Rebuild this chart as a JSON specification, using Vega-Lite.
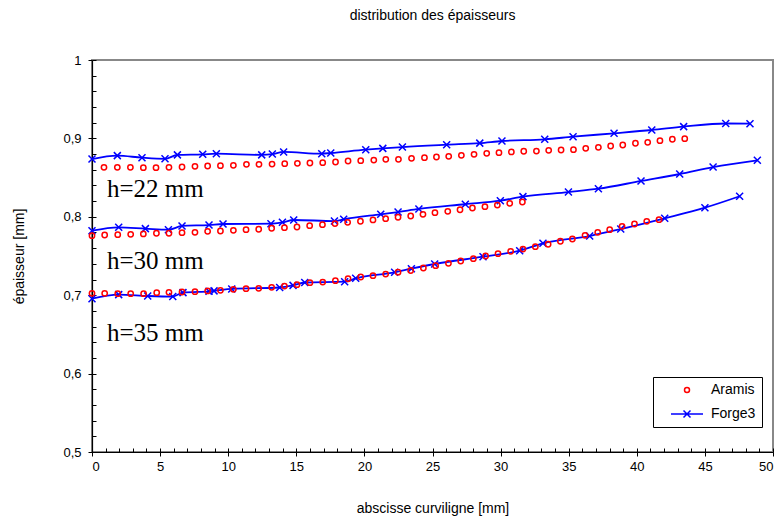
{
  "$schema": "https://vega.github.io/schema/vega-lite/v6.json",
  "width": 681,
  "height": 392,
  "autosize": {"type": "none"},
  "padding": {"left": 92, "top": 60, "right": 10, "bottom": 66},
  "background": "white",
  "title": {"text": "distribution des épaisseurs", "fontSize": 14, "fontWeight": "normal", "font": "Liberation Sans", "color": "#000", "offset": 31, "anchor": "middle"},
  "config": {
    "view": {"stroke": "#888", "strokeWidth": 2},
    "font": "Liberation Sans",
    "axis": {"domainColor": "#000", "domainWidth": 1.2, "tickColor": "#000", "labelColor": "#000", "titleColor": "#000", "labelFont": "Liberation Sans", "titleFont": "Liberation Sans", "labelFontSize": 13, "titleFontSize": 14, "titleFontWeight": "normal", "grid": false},
    "legend": {"title": null, "orient": "none", "legendX": 561, "legendY": 317, "fillColor": "white", "strokeColor": "black", "padding": 6, "labelFontSize": 14, "labelFont": "Liberation Sans", "labelColor": "#000", "symbolSize": 25, "symbolOffset": 21, "labelOffset": 17, "rowPadding": 10, "symbolStrokeWidth": 1.5, "symbolOpacity": 1}
  },
  "datasets": {
    "pts": [
      {"s": "Aramis", "h": "22", "x": 0.88, "y": 0.8631}, {"s": "Aramis", "h": "22", "x": 1.86, "y": 0.8631}, {"s": "Aramis", "h": "22", "x": 2.82, "y": 0.8631}, {"s": "Aramis", "h": "22", "x": 3.77, "y": 0.8626}, {"s": "Aramis", "h": "22", "x": 4.70, "y": 0.8626}, {"s": "Aramis", "h": "22", "x": 5.65, "y": 0.8631}, {"s": "Aramis", "h": "22", "x": 6.61, "y": 0.8635}, {"s": "Aramis", "h": "22", "x": 7.56, "y": 0.8644}, {"s": "Aramis", "h": "22", "x": 8.49, "y": 0.8648}, {"s": "Aramis", "h": "22", "x": 9.43, "y": 0.8652}, {"s": "Aramis", "h": "22", "x": 10.38, "y": 0.8657}, {"s": "Aramis", "h": "22", "x": 11.34, "y": 0.867}, {"s": "Aramis", "h": "22", "x": 12.26, "y": 0.867}, {"s": "Aramis", "h": "22", "x": 13.22, "y": 0.8673}, {"s": "Aramis", "h": "22", "x": 14.15, "y": 0.8677}, {"s": "Aramis", "h": "22", "x": 15.08, "y": 0.8682}, {"s": "Aramis", "h": "22", "x": 16.0, "y": 0.8686}, {"s": "Aramis", "h": "22", "x": 16.94, "y": 0.869}, {"s": "Aramis", "h": "22", "x": 17.88, "y": 0.8699}, {"s": "Aramis", "h": "22", "x": 18.8, "y": 0.8712}, {"s": "Aramis", "h": "22", "x": 19.73, "y": 0.8716}, {"s": "Aramis", "h": "22", "x": 20.69, "y": 0.8724}, {"s": "Aramis", "h": "22", "x": 21.57, "y": 0.8733}, {"s": "Aramis", "h": "22", "x": 22.5, "y": 0.8733}, {"s": "Aramis", "h": "22", "x": 23.46, "y": 0.8746}, {"s": "Aramis", "h": "22", "x": 24.41, "y": 0.8754}, {"s": "Aramis", "h": "22", "x": 25.29, "y": 0.8763}, {"s": "Aramis", "h": "22", "x": 26.19, "y": 0.8772}, {"s": "Aramis", "h": "22", "x": 27.12, "y": 0.8784}, {"s": "Aramis", "h": "22", "x": 28.05, "y": 0.8797}, {"s": "Aramis", "h": "22", "x": 28.98, "y": 0.881}, {"s": "Aramis", "h": "22", "x": 29.88, "y": 0.8818}, {"s": "Aramis", "h": "22", "x": 30.79, "y": 0.8827}, {"s": "Aramis", "h": "22", "x": 31.7, "y": 0.8836}, {"s": "Aramis", "h": "22", "x": 32.63, "y": 0.8839}, {"s": "Aramis", "h": "22", "x": 33.53, "y": 0.8848}, {"s": "Aramis", "h": "22", "x": 34.44, "y": 0.8852}, {"s": "Aramis", "h": "22", "x": 35.35, "y": 0.8856}, {"s": "Aramis", "h": "22", "x": 36.25, "y": 0.8873}, {"s": "Aramis", "h": "22", "x": 37.18, "y": 0.8886}, {"s": "Aramis", "h": "22", "x": 38.08, "y": 0.8903}, {"s": "Aramis", "h": "22", "x": 38.97, "y": 0.8916}, {"s": "Aramis", "h": "22", "x": 39.9, "y": 0.8938}, {"s": "Aramis", "h": "22", "x": 40.8, "y": 0.895}, {"s": "Aramis", "h": "22", "x": 41.7, "y": 0.8971}, {"s": "Aramis", "h": "22", "x": 42.61, "y": 0.8989}, {"s": "Aramis", "h": "22", "x": 43.52, "y": 0.8997},
      {"s": "Aramis", "h": "30", "x": 0, "y": 0.7759}, {"s": "Aramis", "h": "30", "x": 0.93, "y": 0.7768}, {"s": "Aramis", "h": "30", "x": 1.89, "y": 0.7772}, {"s": "Aramis", "h": "30", "x": 2.84, "y": 0.7777}, {"s": "Aramis", "h": "30", "x": 3.77, "y": 0.7781}, {"s": "Aramis", "h": "30", "x": 4.73, "y": 0.779}, {"s": "Aramis", "h": "30", "x": 5.65, "y": 0.779}, {"s": "Aramis", "h": "30", "x": 6.61, "y": 0.7797}, {"s": "Aramis", "h": "30", "x": 7.56, "y": 0.7802}, {"s": "Aramis", "h": "30", "x": 8.49, "y": 0.7815}, {"s": "Aramis", "h": "30", "x": 9.43, "y": 0.7819}, {"s": "Aramis", "h": "30", "x": 10.38, "y": 0.7828}, {"s": "Aramis", "h": "30", "x": 11.31, "y": 0.7836}, {"s": "Aramis", "h": "30", "x": 12.24, "y": 0.7841}, {"s": "Aramis", "h": "30", "x": 13.19, "y": 0.7854}, {"s": "Aramis", "h": "30", "x": 14.13, "y": 0.7861}, {"s": "Aramis", "h": "30", "x": 15.05, "y": 0.787}, {"s": "Aramis", "h": "30", "x": 15.98, "y": 0.7887}, {"s": "Aramis", "h": "30", "x": 16.92, "y": 0.79}, {"s": "Aramis", "h": "30", "x": 17.84, "y": 0.7913}, {"s": "Aramis", "h": "30", "x": 18.77, "y": 0.793}, {"s": "Aramis", "h": "30", "x": 19.71, "y": 0.7943}, {"s": "Aramis", "h": "30", "x": 20.63, "y": 0.796}, {"s": "Aramis", "h": "30", "x": 21.56, "y": 0.7976}, {"s": "Aramis", "h": "30", "x": 22.47, "y": 0.7994}, {"s": "Aramis", "h": "30", "x": 23.4, "y": 0.801}, {"s": "Aramis", "h": "30", "x": 24.3, "y": 0.8032}, {"s": "Aramis", "h": "30", "x": 25.18, "y": 0.8053}, {"s": "Aramis", "h": "30", "x": 26.12, "y": 0.807}, {"s": "Aramis", "h": "30", "x": 27.02, "y": 0.809}, {"s": "Aramis", "h": "30", "x": 27.93, "y": 0.8112}, {"s": "Aramis", "h": "30", "x": 28.85, "y": 0.8129}, {"s": "Aramis", "h": "30", "x": 29.76, "y": 0.815}, {"s": "Aramis", "h": "30", "x": 30.67, "y": 0.8172}, {"s": "Aramis", "h": "30", "x": 31.6, "y": 0.8189},
      {"s": "Aramis", "h": "35", "x": 0, "y": 0.7024}, {"s": "Aramis", "h": "35", "x": 0.93, "y": 0.7024}, {"s": "Aramis", "h": "35", "x": 1.89, "y": 0.702}, {"s": "Aramis", "h": "35", "x": 2.84, "y": 0.702}, {"s": "Aramis", "h": "35", "x": 3.79, "y": 0.702}, {"s": "Aramis", "h": "35", "x": 4.75, "y": 0.7032}, {"s": "Aramis", "h": "35", "x": 5.65, "y": 0.7037}, {"s": "Aramis", "h": "35", "x": 6.61, "y": 0.7041}, {"s": "Aramis", "h": "35", "x": 7.56, "y": 0.7045}, {"s": "Aramis", "h": "35", "x": 8.49, "y": 0.7054}, {"s": "Aramis", "h": "35", "x": 9.43, "y": 0.7062}, {"s": "Aramis", "h": "35", "x": 10.38, "y": 0.7075}, {"s": "Aramis", "h": "35", "x": 11.31, "y": 0.7083}, {"s": "Aramis", "h": "35", "x": 12.24, "y": 0.7088}, {"s": "Aramis", "h": "35", "x": 13.19, "y": 0.71}, {"s": "Aramis", "h": "35", "x": 14.13, "y": 0.7117}, {"s": "Aramis", "h": "35", "x": 15.05, "y": 0.7134}, {"s": "Aramis", "h": "35", "x": 16.0, "y": 0.716}, {"s": "Aramis", "h": "35", "x": 16.94, "y": 0.7168}, {"s": "Aramis", "h": "35", "x": 17.87, "y": 0.7185}, {"s": "Aramis", "h": "35", "x": 18.8, "y": 0.721}, {"s": "Aramis", "h": "35", "x": 19.73, "y": 0.7232}, {"s": "Aramis", "h": "35", "x": 20.63, "y": 0.7249}, {"s": "Aramis", "h": "35", "x": 21.56, "y": 0.727}, {"s": "Aramis", "h": "35", "x": 22.47, "y": 0.7293}, {"s": "Aramis", "h": "35", "x": 23.4, "y": 0.7315}, {"s": "Aramis", "h": "35", "x": 24.33, "y": 0.7347}, {"s": "Aramis", "h": "35", "x": 25.23, "y": 0.7376}, {"s": "Aramis", "h": "35", "x": 26.17, "y": 0.7407}, {"s": "Aramis", "h": "35", "x": 27.07, "y": 0.7436}, {"s": "Aramis", "h": "35", "x": 28.0, "y": 0.7466}, {"s": "Aramis", "h": "35", "x": 28.9, "y": 0.75}, {"s": "Aramis", "h": "35", "x": 29.81, "y": 0.7529}, {"s": "Aramis", "h": "35", "x": 30.74, "y": 0.756}, {"s": "Aramis", "h": "35", "x": 31.64, "y": 0.7589}, {"s": "Aramis", "h": "35", "x": 32.55, "y": 0.7619}, {"s": "Aramis", "h": "35", "x": 33.49, "y": 0.765}, {"s": "Aramis", "h": "35", "x": 34.39, "y": 0.7688}, {"s": "Aramis", "h": "35", "x": 35.27, "y": 0.7717}, {"s": "Aramis", "h": "35", "x": 36.2, "y": 0.7764}, {"s": "Aramis", "h": "35", "x": 37.13, "y": 0.7802}, {"s": "Aramis", "h": "35", "x": 38.01, "y": 0.7836}, {"s": "Aramis", "h": "35", "x": 38.92, "y": 0.7879}, {"s": "Aramis", "h": "35", "x": 39.83, "y": 0.7908}, {"s": "Aramis", "h": "35", "x": 40.73, "y": 0.7942}, {"s": "Aramis", "h": "35", "x": 41.63, "y": 0.7963},
      {"s": "Forge3", "h": "22", "x": 0, "y": 0.8737}, {"s": "Forge3", "h": "22", "x": 1.86, "y": 0.878}, {"s": "Forge3", "h": "22", "x": 3.67, "y": 0.8754}, {"s": "Forge3", "h": "22", "x": 5.36, "y": 0.874}, {"s": "Forge3", "h": "22", "x": 6.27, "y": 0.879}, {"s": "Forge3", "h": "22", "x": 8.13, "y": 0.8797}, {"s": "Forge3", "h": "22", "x": 9.13, "y": 0.8805}, {"s": "Forge3", "h": "22", "x": 12.46, "y": 0.879}, {"s": "Forge3", "h": "22", "x": 13.24, "y": 0.88}, {"s": "Forge3", "h": "22", "x": 14.07, "y": 0.8827}, {"s": "Forge3", "h": "22", "x": 16.87, "y": 0.8805}, {"s": "Forge3", "h": "22", "x": 17.53, "y": 0.8814}, {"s": "Forge3", "h": "22", "x": 20.1, "y": 0.8856}, {"s": "Forge3", "h": "22", "x": 21.35, "y": 0.8873}, {"s": "Forge3", "h": "22", "x": 22.79, "y": 0.889}, {"s": "Forge3", "h": "22", "x": 26.04, "y": 0.892}, {"s": "Forge3", "h": "22", "x": 28.47, "y": 0.894}, {"s": "Forge3", "h": "22", "x": 30.1, "y": 0.8967}, {"s": "Forge3", "h": "22", "x": 33.24, "y": 0.8988}, {"s": "Forge3", "h": "22", "x": 35.32, "y": 0.9022}, {"s": "Forge3", "h": "22", "x": 38.33, "y": 0.9065}, {"s": "Forge3", "h": "22", "x": 41.1, "y": 0.9107}, {"s": "Forge3", "h": "22", "x": 43.44, "y": 0.915}, {"s": "Forge3", "h": "22", "x": 46.53, "y": 0.919}, {"s": "Forge3", "h": "22", "x": 48.31, "y": 0.9188},
      {"s": "Forge3", "h": "30", "x": 0, "y": 0.7823}, {"s": "Forge3", "h": "30", "x": 1.96, "y": 0.7866}, {"s": "Forge3", "h": "30", "x": 3.92, "y": 0.7849}, {"s": "Forge3", "h": "30", "x": 5.61, "y": 0.7836}, {"s": "Forge3", "h": "30", "x": 6.61, "y": 0.7883}, {"s": "Forge3", "h": "30", "x": 8.59, "y": 0.7895}, {"s": "Forge3", "h": "30", "x": 9.62, "y": 0.7908}, {"s": "Forge3", "h": "30", "x": 13.14, "y": 0.7912}, {"s": "Forge3", "h": "30", "x": 13.98, "y": 0.793}, {"s": "Forge3", "h": "30", "x": 14.81, "y": 0.7959}, {"s": "Forge3", "h": "30", "x": 17.8, "y": 0.7946}, {"s": "Forge3", "h": "30", "x": 18.48, "y": 0.7968}, {"s": "Forge3", "h": "30", "x": 21.2, "y": 0.8032}, {"s": "Forge3", "h": "30", "x": 22.47, "y": 0.8061}, {"s": "Forge3", "h": "30", "x": 24.0, "y": 0.81}, {"s": "Forge3", "h": "30", "x": 27.41, "y": 0.816}, {"s": "Forge3", "h": "30", "x": 29.98, "y": 0.8205}, {"s": "Forge3", "h": "30", "x": 31.64, "y": 0.8257}, {"s": "Forge3", "h": "30", "x": 34.98, "y": 0.8316}, {"s": "Forge3", "h": "30", "x": 37.18, "y": 0.8358}, {"s": "Forge3", "h": "30", "x": 40.31, "y": 0.8457}, {"s": "Forge3", "h": "30", "x": 43.15, "y": 0.8546}, {"s": "Forge3", "h": "30", "x": 45.6, "y": 0.8635}, {"s": "Forge3", "h": "30", "x": 48.85, "y": 0.8721},
      {"s": "Forge3", "h": "35", "x": 0, "y": 0.6955}, {"s": "Forge3", "h": "35", "x": 1.96, "y": 0.7007}, {"s": "Forge3", "h": "35", "x": 4.09, "y": 0.699}, {"s": "Forge3", "h": "35", "x": 5.93, "y": 0.6983}, {"s": "Forge3", "h": "35", "x": 6.68, "y": 0.7033}, {"s": "Forge3", "h": "35", "x": 8.59, "y": 0.705}, {"s": "Forge3", "h": "35", "x": 8.96, "y": 0.7055}, {"s": "Forge3", "h": "35", "x": 10.26, "y": 0.708}, {"s": "Forge3", "h": "35", "x": 13.78, "y": 0.7098}, {"s": "Forge3", "h": "35", "x": 14.76, "y": 0.7125}, {"s": "Forge3", "h": "35", "x": 15.62, "y": 0.7162}, {"s": "Forge3", "h": "35", "x": 18.55, "y": 0.7172}, {"s": "Forge3", "h": "35", "x": 19.36, "y": 0.7215}, {"s": "Forge3", "h": "35", "x": 22.22, "y": 0.7292}, {"s": "Forge3", "h": "35", "x": 23.45, "y": 0.7338}, {"s": "Forge3", "h": "35", "x": 25.16, "y": 0.7398}, {"s": "Forge3", "h": "35", "x": 28.71, "y": 0.7491}, {"s": "Forge3", "h": "35", "x": 31.4, "y": 0.7568}, {"s": "Forge3", "h": "35", "x": 33.11, "y": 0.7662}, {"s": "Forge3", "h": "35", "x": 36.54, "y": 0.7755}, {"s": "Forge3", "h": "35", "x": 38.82, "y": 0.7844}, {"s": "Forge3", "h": "35", "x": 42.05, "y": 0.7981}, {"s": "Forge3", "h": "35", "x": 45.0, "y": 0.8116}, {"s": "Forge3", "h": "35", "x": 47.55, "y": 0.8262}
    ],
    "labels": [
      {"label": "h=22 mm", "x": 1.1, "y": 0.8249},
      {"label": "h=30 mm", "x": 1.1, "y": 0.7334},
      {"label": "h=35 mm", "x": 1.1, "y": 0.6416}
    ]
  },
  "layer": [
    {
      "data": {"name": "pts"},
      "transform": [{"filter": "datum.s === 'Forge3'"}],
      "mark": {"type": "line", "color": "#0000FF", "strokeWidth": 1.8, "interpolate": "monotone"},
      "encoding": {
        "x": {"field": "x", "type": "quantitative", "scale": {"domain": [0, 50], "nice": false, "zero": false},
          "axis": {"orient": "bottom", "values": [0,1,2,3,4,5,6,7,8,9,10,11,12,13,14,15,16,17,18,19,20,21,22,23,24,25,26,27,28,29,30,31,32,33,34,35,36,37,38,39,40,41,42,43,44,45,46,47,48,49,50], "labels": false, "domain": false, "tickSize": -4, "title": null}},
        "y": {"field": "y", "type": "quantitative", "scale": {"domain": [0.5, 1], "nice": false, "zero": false},
          "axis": {"orient": "left", "values": [0.5,0.52,0.54,0.56,0.58,0.6,0.62,0.64,0.66,0.68,0.7,0.72,0.74,0.76,0.78,0.8,0.82,0.84,0.86,0.88,0.9,0.92,0.94,0.96,0.98,1.0], "labels": false, "domain": false, "tickSize": -4, "title": null}},
        "detail": {"field": "h", "type": "nominal"}
      }
    },
    {
      "data": {"name": "pts"},
      "transform": [{"filter": "datum.s === 'Forge3'"}],
      "mark": {"type": "point", "filled": false, "strokeWidth": 1.5, "opacity": 1, "color": "#0000FF", "shape": "M-1,-1L1,1M-1,1L1,-1", "size": 49},
      "encoding": {
        "x": {"field": "x", "type": "quantitative",
          "axis": {"orient": "bottom", "values": [0,5,10,15,20,25,30,35,40,45,50], "tickSize": 4, "labelPadding": 4, "title": "abscisse curviligne [mm]", "titlePadding": 28}},
        "y": {"field": "y", "type": "quantitative",
          "axis": {"orient": "left", "values": [0.5,0.6,0.7,0.8,0.9,1.0], "tickSize": 4, "labelPadding": 7, "labelExpr": "replace(format(datum.value, '.1~f'), '.', ',')", "title": "épaisseur [mm]", "titlePadding": 36}}
      }
    },
    {
      "data": {"name": "pts"},
      "transform": [{"filter": "datum.s === 'Aramis'"}],
      "mark": {"type": "point", "filled": false, "strokeWidth": 1.5, "opacity": 1, "size": 28},
      "encoding": {
        "x": {"field": "x", "type": "quantitative", "axis": null},
        "y": {"field": "y", "type": "quantitative", "axis": null},
        "color": {"field": "s", "type": "nominal", "scale": {"domain": ["Aramis", "Forge3"], "range": ["#FF0000", "#0000FF"]}},
        "shape": {"field": "s", "type": "nominal", "scale": {"domain": ["Aramis", "Forge3"], "range": ["circle", "M-6.4,0H6.4M-1.4,-1.4L1.4,1.4M-1.4,1.4L1.4,-1.4"]}}
      }
    },
    {
      "data": {"name": "labels"},
      "mark": {"type": "text", "font": "Liberation Serif", "fontSize": 25, "align": "left", "baseline": "alphabetic", "color": "#000"},
      "encoding": {
        "x": {"field": "x", "type": "quantitative", "axis": null},
        "y": {"field": "y", "type": "quantitative", "axis": null},
        "text": {"field": "label"}
      }
    }
  ],
  "resolve": {"axis": {"x": "independent", "y": "independent"}}
}
